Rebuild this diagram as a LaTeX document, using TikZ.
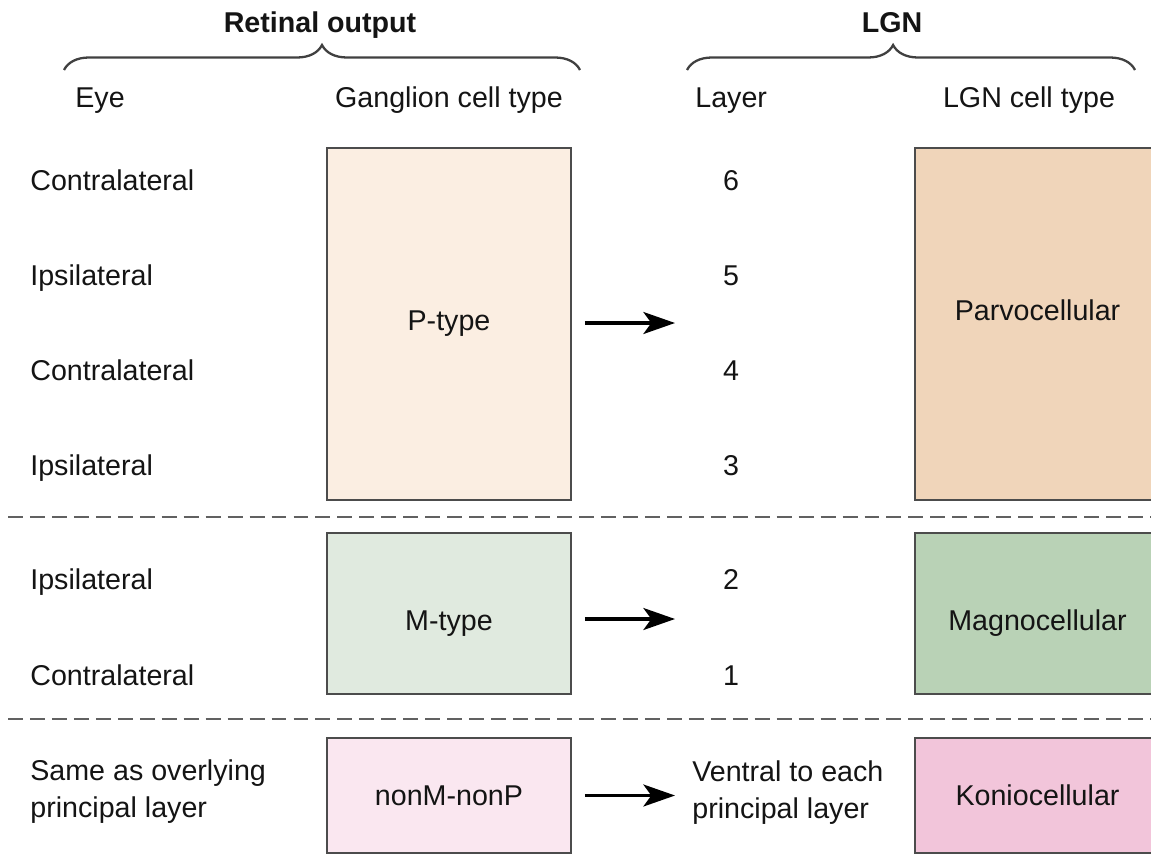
\documentclass[tikz,border=0pt]{standalone}
\usepackage{fontspec}
\setmainfont{Liberation Sans}
\usetikzlibrary{arrows.meta,decorations.pathreplacing}

\definecolor{ptypefill}{HTML}{FBEEE2}
\definecolor{parvofill}{HTML}{F0D5BA}
\definecolor{mtypefill}{HTML}{E0EADF}
\definecolor{magnofill}{HTML}{B9D2B6}
\definecolor{nonmfill}{HTML}{FAE7F0}
\definecolor{koniofill}{HTML}{F2C5DA}

\begin{document}
\begin{tikzpicture}[x=0.02cm,y=-0.02cm,
        font=\fontsize{16.3}{21}\selectfont,text=black!92,
        cellbox/.style={draw=black!70,line width=1.1pt,minimum width=4.88cm,align=center,inner sep=0pt},
        lgnbox/.style={cellbox,minimum width=4.9cm},
        lbl/.style={anchor=base west,inner sep=0pt},
        num/.style={anchor=base,inner sep=0pt},
        title/.style={anchor=base,inner sep=0pt,font=\fontsize{16.3}{21}\selectfont\bfseries},
        flow/.style={-{Stealth[length=18pt,width=12.5pt,inset=4.5pt]},line width=1.8pt,shorten <=7.4pt},
        divider/.style={draw=black!62,line width=1.5pt,dash pattern=on 8.5pt off 4pt},
        bracetop/.style={decorate,decoration={brace,amplitude=0.5cm,aspect=#1},draw=black!75,line width=1.3pt}]
        \useasboundingbox (0,0) rectangle (1151,855);

        % headings
        \node[title] (retinal) at (320,33) {Retinal output};
        \node[title] (lgn) at (892,33) {LGN};
        \draw[bracetop=0.5] (64,70) -- (580,70);
        \draw[bracetop=0.46] (687,70) -- (1135,70);
        \node[lbl] (eye) at (75,107) {Eye};
        \node[num] (ganglion) at (449,107) {Ganglion cell type};
        \node[lbl] (layer) at (695,107) {Layer};
        \node[num] (lgntype) at (1029,107) {LGN cell type};

        % rows
        \foreach \y/\side/\n in {190/Contralateral/6,285/Ipsilateral/5,380/Contralateral/4,475/Ipsilateral/3,589/Ipsilateral/2,685/Contralateral/1}{
            \node[lbl] (eye\n) at (30,\y) {\side};
            \node[num] (layer\n) at (731,\y) {\n};
        }
        \node[anchor=west,align=left,inner sep=0pt] (same) at (30,792) {Same as overlying\\principal layer};
        \node[anchor=west,align=left,inner sep=0pt] (ventral) at (692,793) {Ventral to each\\principal layer};

        % cell boxes
        \node[cellbox,fill=ptypefill,minimum height=7.04cm] (ptype) at (449,324) {P-type};
        \node[lgnbox,fill=parvofill,minimum height=7.04cm,text height=12pt,text depth=16.4pt] (parvo) at (1037.5,324) {Parvocellular};
        \node[cellbox,fill=mtypefill,minimum height=3.22cm,text height=20pt,text depth=0.4pt] (mtype) at (449,613.5) {M-type};
        \node[lgnbox,fill=magnofill,minimum height=3.22cm,text height=20pt,text depth=0.4pt] (magno) at (1037.5,613.5) {Magnocellular};
        \node[cellbox,fill=nonmfill,minimum height=2.3cm] (nonmp) at (449,795.5) {nonM-nonP};
        \node[lgnbox,fill=koniofill,minimum height=2.3cm] (konio) at (1037.5,795.5) {Koniocellular};

        % projections
        \coordinate (ptip) at (675,323);
        \coordinate (mtip) at (675,619);
        \coordinate (ktip) at (675,795.5);
        \draw[flow] (ptype.east |- ptip) -- (ptip);
        \draw[flow] (mtype.east |- mtip) -- (mtip);
        \draw[flow] (nonmp.east) -- (ktip);

        \draw[divider] (8,517) -- (1151,517);
        \draw[divider] (8,719) -- (1151,719);
    \end{tikzpicture}
\end{document}
